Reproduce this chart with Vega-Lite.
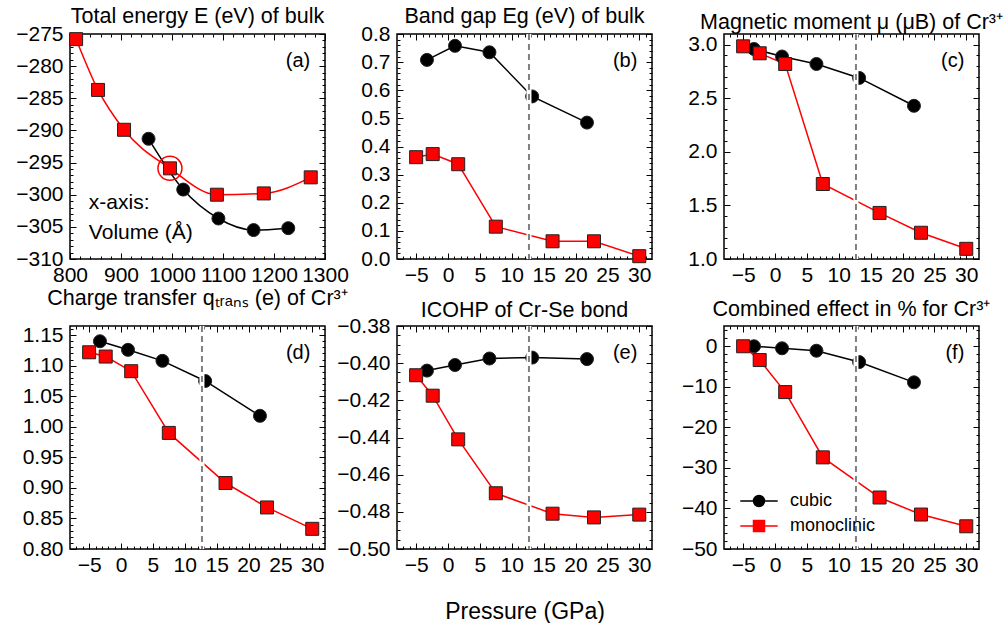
{
  "$schema": "https://vega.github.io/schema/vega-lite/v6.json",
  "background": "white",
  "padding": {"left": 14, "top": 4, "right": 5, "bottom": 5},
  "datasets": {
    "a": [
      {"s": "monoclinic", "x": 812, "y": -275.8}, {"s": "monoclinic", "x": 855, "y": -283.7}, {"s": "monoclinic", "x": 906, "y": -289.9}, {"s": "monoclinic", "x": 996, "y": -295.9}, {"s": "monoclinic", "x": 1088, "y": -300.0}, {"s": "monoclinic", "x": 1180, "y": -299.8}, {"s": "monoclinic", "x": 1272, "y": -297.3},
      {"s": "cubic", "x": 954, "y": -291.3}, {"s": "cubic", "x": 1022, "y": -299.2}, {"s": "cubic", "x": 1091, "y": -303.7}, {"s": "cubic", "x": 1160, "y": -305.5}, {"s": "cubic", "x": 1228, "y": -305.2}
    ],
    "b": [
      {"s": "cubic", "x": -3.3, "y": 0.708}, {"s": "cubic", "x": 1.1, "y": 0.758}, {"s": "cubic", "x": 6.5, "y": 0.735}, {"s": "cubic", "x": 13.2, "y": 0.578}, {"s": "cubic", "x": 21.8, "y": 0.485},
      {"s": "monoclinic", "x": -5.0, "y": 0.362}, {"s": "monoclinic", "x": -2.4, "y": 0.373}, {"s": "monoclinic", "x": 1.6, "y": 0.337}, {"s": "monoclinic", "x": 7.5, "y": 0.115}, {"s": "monoclinic", "x": 16.4, "y": 0.063}, {"s": "monoclinic", "x": 22.9, "y": 0.063}, {"s": "monoclinic", "x": 30.0, "y": 0.010}
    ],
    "c": [
      {"s": "cubic", "x": -3.3, "y": 2.96}, {"s": "cubic", "x": 1.1, "y": 2.89}, {"s": "cubic", "x": 6.5, "y": 2.82}, {"s": "cubic", "x": 13.2, "y": 2.69}, {"s": "cubic", "x": 21.8, "y": 2.43},
      {"s": "monoclinic", "x": -5.0, "y": 2.985}, {"s": "monoclinic", "x": -2.4, "y": 2.92}, {"s": "monoclinic", "x": 1.6, "y": 2.82}, {"s": "monoclinic", "x": 7.5, "y": 1.70}, {"s": "monoclinic", "x": 16.4, "y": 1.43}, {"s": "monoclinic", "x": 22.9, "y": 1.245}, {"s": "monoclinic", "x": 30.0, "y": 1.095}
    ],
    "d": [
      {"s": "cubic", "x": -3.3, "y": 1.140}, {"s": "cubic", "x": 1.1, "y": 1.126}, {"s": "cubic", "x": 6.5, "y": 1.108}, {"s": "cubic", "x": 13.2, "y": 1.075}, {"s": "cubic", "x": 21.8, "y": 1.018},
      {"s": "monoclinic", "x": -5.0, "y": 1.122}, {"s": "monoclinic", "x": -2.4, "y": 1.115}, {"s": "monoclinic", "x": 1.6, "y": 1.091}, {"s": "monoclinic", "x": 7.5, "y": 0.990}, {"s": "monoclinic", "x": 16.4, "y": 0.908}, {"s": "monoclinic", "x": 22.9, "y": 0.868}, {"s": "monoclinic", "x": 30.0, "y": 0.833}
    ],
    "e": [
      {"s": "cubic", "x": -3.3, "y": -0.404}, {"s": "cubic", "x": 1.1, "y": -0.401}, {"s": "cubic", "x": 6.5, "y": -0.3975}, {"s": "cubic", "x": 13.2, "y": -0.397}, {"s": "cubic", "x": 21.8, "y": -0.3978},
      {"s": "monoclinic", "x": -5.0, "y": -0.4065}, {"s": "monoclinic", "x": -2.4, "y": -0.4175}, {"s": "monoclinic", "x": 1.6, "y": -0.441}, {"s": "monoclinic", "x": 7.5, "y": -0.470}, {"s": "monoclinic", "x": 16.4, "y": -0.481}, {"s": "monoclinic", "x": 22.9, "y": -0.483}, {"s": "monoclinic", "x": 30.0, "y": -0.4815}
    ],
    "f": [
      {"s": "cubic", "x": -3.3, "y": 0.0}, {"s": "cubic", "x": 1.1, "y": -0.5}, {"s": "cubic", "x": 6.5, "y": -1.1}, {"s": "cubic", "x": 13.2, "y": -3.9}, {"s": "cubic", "x": 21.8, "y": -8.9},
      {"s": "monoclinic", "x": -5.0, "y": 0.0}, {"s": "monoclinic", "x": -2.4, "y": -3.4}, {"s": "monoclinic", "x": 1.6, "y": -11.3}, {"s": "monoclinic", "x": 7.5, "y": -27.4}, {"s": "monoclinic", "x": 16.4, "y": -37.3}, {"s": "monoclinic", "x": 22.9, "y": -41.5}, {"s": "monoclinic", "x": 30.0, "y": -44.4}
    ]
  },
  "columns": 3,
  "spacing": {"row": 67, "column": 72},
  "bounds": "flush",
  "resolve": {
    "scale": {"x": "independent", "y": "independent", "color": "independent", "shape": "independent", "fill": "independent", "stroke": "independent"},
    "legend": {"color": "independent", "shape": "independent", "fill": "independent", "stroke": "independent"}
  },
  "concat": [
    {
      "width": 255, "height": 225,
      "data": {"name": "a"},
      "title": {"text": "Total energy E (eV) of bulk"},
      "resolve": {"axis": {"x": "independent", "y": "independent"}},
      "layer": [
        {"mark": {"type": "line", "strokeWidth": 1.5, "interpolate": "monotone"},
         "encoding": {
           "x": {"field": "x", "type": "quantitative", "scale": {"domain": [800, 1300], "nice": false, "zero": false}, "axis": {"orient": "bottom", "values": [800, 900, 1000, 1100, 1200, 1300], "format": "d", "tickSize": -6, "title": null}},
           "y": {"field": "y", "type": "quantitative", "scale": {"domain": [-310, -275], "nice": false, "zero": false}, "axis": {"orient": "left", "values": [-310, -305, -300, -295, -290, -285, -280, -275], "format": "d", "tickSize": -6, "title": null}},
           "color": {"field": "s", "type": "nominal", "scale": {"domain": ["cubic", "monoclinic"], "range": ["black", "red"]}, "legend": null}}},
        {"mark": {"type": "point", "filled": true, "size": 169, "opacity": 1, "stroke": "#222", "strokeWidth": 1},
         "encoding": {
           "x": {"field": "x", "type": "quantitative", "axis": {"orient": "top", "values": [800, 900, 1000, 1100, 1200, 1300], "tickSize": -6, "labels": false, "title": null}},
           "y": {"field": "y", "type": "quantitative", "axis": {"orient": "right", "values": [-310, -305, -300, -295, -290, -285, -280, -275], "tickSize": -6, "labels": false, "title": null}},
           "color": {"field": "s", "type": "nominal", "scale": {"domain": ["cubic", "monoclinic"], "range": ["black", "red"]}, "legend": null},
           "shape": {"field": "s", "type": "nominal", "scale": {"domain": ["cubic", "monoclinic"], "range": ["circle", "square"]}, "legend": null}}},
        {"mark": {"type": "point", "opacity": 0},
         "encoding": {
           "x": {"field": "x", "type": "quantitative", "axis": {"orient": "bottom", "values": [820, 840, 860, 880, 920, 940, 960, 980, 1020, 1040, 1060, 1080, 1120, 1140, 1160, 1180, 1220, 1240, 1260, 1280], "tickSize": -3, "labels": false, "title": null}},
           "y": {"field": "y", "type": "quantitative", "axis": {"orient": "left", "values": [-309, -308, -307, -306, -304, -303, -302, -301, -299, -298, -297, -296, -294, -293, -292, -291, -289, -288, -287, -286, -284, -283, -282, -281, -279, -278, -277, -276], "tickSize": -3, "labels": false, "title": null}}}},
        {"mark": {"type": "point", "opacity": 0},
         "encoding": {
           "x": {"field": "x", "type": "quantitative", "axis": {"orient": "top", "values": [820, 840, 860, 880, 920, 940, 960, 980, 1020, 1040, 1060, 1080, 1120, 1140, 1160, 1180, 1220, 1240, 1260, 1280], "tickSize": -3, "labels": false, "title": null}},
           "y": {"field": "y", "type": "quantitative", "axis": {"orient": "right", "values": [-309, -308, -307, -306, -304, -303, -302, -301, -299, -298, -297, -296, -294, -293, -292, -291, -289, -288, -287, -286, -284, -283, -282, -281, -279, -278, -277, -276], "tickSize": -3, "labels": false, "title": null}}}},
        {"data": {"values": [{}]}, "mark": {"type": "point", "shape": "circle", "filled": false, "size": 576, "stroke": "red", "strokeWidth": 1.5, "opacity": 1},
         "encoding": {"x": {"datum": 996, "type": "quantitative", "axis": null}, "y": {"datum": -295.9, "type": "quantitative", "axis": null}}},
        {"data": {"values": [{}]}, "mark": {"type": "text", "align": "left", "baseline": "middle", "fontSize": 21, "color": "black"},
         "encoding": {"x": {"datum": 837, "type": "quantitative", "axis": null}, "y": {"datum": -301.3, "type": "quantitative", "axis": null}, "text": {"value": "x-axis:"}}},
        {"data": {"values": [{}]}, "mark": {"type": "text", "align": "left", "baseline": "middle", "fontSize": 21, "color": "black"},
         "encoding": {"x": {"datum": 837, "type": "quantitative", "axis": null}, "y": {"datum": -305.9, "type": "quantitative", "axis": null}, "text": {"value": "Volume (Å)"}}},
        {"data": {"values": [{}]}, "mark": {"type": "text", "align": "right", "baseline": "middle", "fontSize": 20, "color": "black"},
         "encoding": {"x": {"datum": 1271, "type": "quantitative", "axis": null}, "y": {"datum": -279.2, "type": "quantitative", "axis": null}, "text": {"value": "(a)"}}}
      ]
    },
    {
      "width": 255, "height": 225,
      "data": {"name": "b"},
      "title": {"text": "Band gap Eg (eV) of bulk"},
      "resolve": {"axis": {"x": "independent", "y": "independent"}},
      "layer": [
        {"mark": {"type": "line", "strokeWidth": 1.5},
         "encoding": {
           "x": {"field": "x", "type": "quantitative", "scale": {"domain": [-8, 32], "nice": false, "zero": false}, "axis": {"orient": "bottom", "values": [-5, 0, 5, 10, 15, 20, 25, 30], "format": "d", "tickSize": -6, "title": null}},
           "y": {"field": "y", "type": "quantitative", "scale": {"domain": [0, 0.8], "nice": false, "zero": false}, "axis": {"orient": "left", "values": [0, 0.1, 0.2, 0.3, 0.4, 0.5, 0.6, 0.7, 0.8], "format": ".1f", "tickSize": -6, "title": null}},
           "color": {"field": "s", "type": "nominal", "scale": {"domain": ["cubic", "monoclinic"], "range": ["black", "red"]}, "legend": null}}},
        {"mark": {"type": "point", "filled": true, "size": 169, "opacity": 1, "stroke": "#222", "strokeWidth": 1},
         "encoding": {
           "x": {"field": "x", "type": "quantitative", "axis": {"orient": "top", "values": [-5, 0, 5, 10, 15, 20, 25, 30], "tickSize": -6, "labels": false, "title": null}},
           "y": {"field": "y", "type": "quantitative", "axis": {"orient": "right", "values": [0, 0.1, 0.2, 0.3, 0.4, 0.5, 0.6, 0.7, 0.8], "tickSize": -6, "labels": false, "title": null}},
           "color": {"field": "s", "type": "nominal", "scale": {"domain": ["cubic", "monoclinic"], "range": ["black", "red"]}, "legend": null},
           "shape": {"field": "s", "type": "nominal", "scale": {"domain": ["cubic", "monoclinic"], "range": ["circle", "square"]}, "legend": null}}},
        {"mark": {"type": "point", "opacity": 0},
         "encoding": {
           "x": {"field": "x", "type": "quantitative", "axis": {"orient": "bottom", "values": [-7, -6, -4, -3, -2, -1, 1, 2, 3, 4, 6, 7, 8, 9, 11, 12, 13, 14, 16, 17, 18, 19, 21, 22, 23, 24, 26, 27, 28, 29, 31], "tickSize": -3, "labels": false, "title": null}},
           "y": {"field": "y", "type": "quantitative", "axis": {"orient": "left", "values": [0.02, 0.04, 0.06, 0.08, 0.12, 0.14, 0.16, 0.18, 0.22, 0.24, 0.26, 0.28, 0.32, 0.34, 0.36, 0.38, 0.42, 0.44, 0.46, 0.48, 0.52, 0.54, 0.56, 0.58, 0.62, 0.64, 0.66, 0.68, 0.72, 0.74, 0.76, 0.78], "tickSize": -3, "labels": false, "title": null}}}},
        {"mark": {"type": "point", "opacity": 0},
         "encoding": {
           "x": {"field": "x", "type": "quantitative", "axis": {"orient": "top", "values": [-7, -6, -4, -3, -2, -1, 1, 2, 3, 4, 6, 7, 8, 9, 11, 12, 13, 14, 16, 17, 18, 19, 21, 22, 23, 24, 26, 27, 28, 29, 31], "tickSize": -3, "labels": false, "title": null}},
           "y": {"field": "y", "type": "quantitative", "axis": {"orient": "right", "values": [0.02, 0.04, 0.06, 0.08, 0.12, 0.14, 0.16, 0.18, 0.22, 0.24, 0.26, 0.28, 0.32, 0.34, 0.36, 0.38, 0.42, 0.44, 0.46, 0.48, 0.52, 0.54, 0.56, 0.58, 0.62, 0.64, 0.66, 0.68, 0.72, 0.74, 0.76, 0.78], "tickSize": -3, "labels": false, "title": null}}}},
        {"data": {"values": [{}]}, "mark": {"type": "rule", "stroke": "white", "strokeWidth": 5},
         "encoding": {"x": {"datum": 12.7, "type": "quantitative", "axis": null}}},
        {"data": {"values": [{}]}, "mark": {"type": "rule", "stroke": "#808080", "strokeWidth": 2, "strokeDash": [6, 4]},
         "encoding": {"x": {"datum": 12.7, "type": "quantitative", "axis": null}}},
        {"data": {"values": [{}]}, "mark": {"type": "text", "align": "right", "baseline": "middle", "fontSize": 20, "color": "black"},
         "encoding": {"x": {"datum": 29.7, "type": "quantitative", "axis": null}, "y": {"datum": 0.704, "type": "quantitative", "axis": null}, "text": {"value": "(b)"}}}
      ]
    },
    {
      "width": 255, "height": 225,
      "data": {"name": "c"},
      "title": {"text": "Magnetic moment μ (μB) of Cr³⁺", "offset": -2},
      "resolve": {"axis": {"x": "independent", "y": "independent"}},
      "layer": [
        {"mark": {"type": "line", "strokeWidth": 1.5},
         "encoding": {
           "x": {"field": "x", "type": "quantitative", "scale": {"domain": [-8, 32], "nice": false, "zero": false}, "axis": {"orient": "bottom", "values": [-5, 0, 5, 10, 15, 20, 25, 30], "format": "d", "tickSize": -6, "title": null}},
           "y": {"field": "y", "type": "quantitative", "scale": {"domain": [1.0, 3.1], "nice": false, "zero": false}, "axis": {"orient": "left", "values": [1.0, 1.5, 2.0, 2.5, 3.0], "format": ".1f", "tickSize": -6, "title": null}},
           "color": {"field": "s", "type": "nominal", "scale": {"domain": ["cubic", "monoclinic"], "range": ["black", "red"]}, "legend": null}}},
        {"mark": {"type": "point", "filled": true, "size": 169, "opacity": 1, "stroke": "#222", "strokeWidth": 1},
         "encoding": {
           "x": {"field": "x", "type": "quantitative", "axis": {"orient": "top", "values": [-5, 0, 5, 10, 15, 20, 25, 30], "tickSize": -6, "labels": false, "title": null}},
           "y": {"field": "y", "type": "quantitative", "axis": {"orient": "right", "values": [1.0, 1.5, 2.0, 2.5, 3.0], "tickSize": -6, "labels": false, "title": null}},
           "color": {"field": "s", "type": "nominal", "scale": {"domain": ["cubic", "monoclinic"], "range": ["black", "red"]}, "legend": null},
           "shape": {"field": "s", "type": "nominal", "scale": {"domain": ["cubic", "monoclinic"], "range": ["circle", "square"]}, "legend": null}}},
        {"mark": {"type": "point", "opacity": 0},
         "encoding": {
           "x": {"field": "x", "type": "quantitative", "axis": {"orient": "bottom", "values": [-7, -6, -4, -3, -2, -1, 1, 2, 3, 4, 6, 7, 8, 9, 11, 12, 13, 14, 16, 17, 18, 19, 21, 22, 23, 24, 26, 27, 28, 29, 31], "tickSize": -3, "labels": false, "title": null}},
           "y": {"field": "y", "type": "quantitative", "axis": {"orient": "left", "values": [1.1, 1.2, 1.3, 1.4, 1.6, 1.7, 1.8, 1.9, 2.1, 2.2, 2.3, 2.4, 2.6, 2.7, 2.8, 2.9], "tickSize": -3, "labels": false, "title": null}}}},
        {"mark": {"type": "point", "opacity": 0},
         "encoding": {
           "x": {"field": "x", "type": "quantitative", "axis": {"orient": "top", "values": [-7, -6, -4, -3, -2, -1, 1, 2, 3, 4, 6, 7, 8, 9, 11, 12, 13, 14, 16, 17, 18, 19, 21, 22, 23, 24, 26, 27, 28, 29, 31], "tickSize": -3, "labels": false, "title": null}},
           "y": {"field": "y", "type": "quantitative", "axis": {"orient": "right", "values": [1.1, 1.2, 1.3, 1.4, 1.6, 1.7, 1.8, 1.9, 2.1, 2.2, 2.3, 2.4, 2.6, 2.7, 2.8, 2.9], "tickSize": -3, "labels": false, "title": null}}}},
        {"data": {"values": [{}]}, "mark": {"type": "rule", "stroke": "white", "strokeWidth": 5},
         "encoding": {"x": {"datum": 12.7, "type": "quantitative", "axis": null}}},
        {"data": {"values": [{}]}, "mark": {"type": "rule", "stroke": "#808080", "strokeWidth": 2, "strokeDash": [6, 4]},
         "encoding": {"x": {"datum": 12.7, "type": "quantitative", "axis": null}}},
        {"data": {"values": [{}]}, "mark": {"type": "text", "align": "right", "baseline": "middle", "fontSize": 20, "color": "black"},
         "encoding": {"x": {"datum": 29.7, "type": "quantitative", "axis": null}, "y": {"datum": 2.85, "type": "quantitative", "axis": null}, "text": {"value": "(c)"}}}
      ]
    },
    {
      "width": 255, "height": 223,
      "data": {"name": "d"},
      "title": {"text": "Charge transfer qₜᵣₐₙₛ (e) of Cr³⁺", "offset": 14},
      "resolve": {"axis": {"x": "independent", "y": "independent"}},
      "layer": [
        {"mark": {"type": "line", "strokeWidth": 1.5},
         "encoding": {
           "x": {"field": "x", "type": "quantitative", "scale": {"domain": [-8, 32], "nice": false, "zero": false}, "axis": {"orient": "bottom", "values": [-5, 0, 5, 10, 15, 20, 25, 30], "format": "d", "tickSize": -6, "title": null}},
           "y": {"field": "y", "type": "quantitative", "scale": {"domain": [0.8, 1.165], "nice": false, "zero": false}, "axis": {"orient": "left", "values": [0.8, 0.85, 0.9, 0.95, 1.0, 1.05, 1.1, 1.15], "format": ".2f", "tickSize": -6, "title": null}},
           "color": {"field": "s", "type": "nominal", "scale": {"domain": ["cubic", "monoclinic"], "range": ["black", "red"]}, "legend": null}}},
        {"mark": {"type": "point", "filled": true, "size": 169, "opacity": 1, "stroke": "#222", "strokeWidth": 1},
         "encoding": {
           "x": {"field": "x", "type": "quantitative", "axis": {"orient": "top", "values": [-5, 0, 5, 10, 15, 20, 25, 30], "tickSize": -6, "labels": false, "title": null}},
           "y": {"field": "y", "type": "quantitative", "axis": {"orient": "right", "values": [0.8, 0.85, 0.9, 0.95, 1.0, 1.05, 1.1, 1.15], "tickSize": -6, "labels": false, "title": null}},
           "color": {"field": "s", "type": "nominal", "scale": {"domain": ["cubic", "monoclinic"], "range": ["black", "red"]}, "legend": null},
           "shape": {"field": "s", "type": "nominal", "scale": {"domain": ["cubic", "monoclinic"], "range": ["circle", "square"]}, "legend": null}}},
        {"mark": {"type": "point", "opacity": 0},
         "encoding": {
           "x": {"field": "x", "type": "quantitative", "axis": {"orient": "bottom", "values": [-7, -6, -4, -3, -2, -1, 1, 2, 3, 4, 6, 7, 8, 9, 11, 12, 13, 14, 16, 17, 18, 19, 21, 22, 23, 24, 26, 27, 28, 29, 31], "tickSize": -3, "labels": false, "title": null}},
           "y": {"field": "y", "type": "quantitative", "axis": {"orient": "left", "values": [0.81, 0.82, 0.83, 0.84, 0.86, 0.87, 0.88, 0.89, 0.91, 0.92, 0.93, 0.94, 0.96, 0.97, 0.98, 0.99, 1.01, 1.02, 1.03, 1.04, 1.06, 1.07, 1.08, 1.09, 1.11, 1.12, 1.13, 1.14, 1.16], "tickSize": -3, "labels": false, "title": null}}}},
        {"mark": {"type": "point", "opacity": 0},
         "encoding": {
           "x": {"field": "x", "type": "quantitative", "axis": {"orient": "top", "values": [-7, -6, -4, -3, -2, -1, 1, 2, 3, 4, 6, 7, 8, 9, 11, 12, 13, 14, 16, 17, 18, 19, 21, 22, 23, 24, 26, 27, 28, 29, 31], "tickSize": -3, "labels": false, "title": null}},
           "y": {"field": "y", "type": "quantitative", "axis": {"orient": "right", "values": [0.81, 0.82, 0.83, 0.84, 0.86, 0.87, 0.88, 0.89, 0.91, 0.92, 0.93, 0.94, 0.96, 0.97, 0.98, 0.99, 1.01, 1.02, 1.03, 1.04, 1.06, 1.07, 1.08, 1.09, 1.11, 1.12, 1.13, 1.14, 1.16], "tickSize": -3, "labels": false, "title": null}}}},
        {"data": {"values": [{}]}, "mark": {"type": "rule", "stroke": "white", "strokeWidth": 5},
         "encoding": {"x": {"datum": 12.7, "type": "quantitative", "axis": null}}},
        {"data": {"values": [{}]}, "mark": {"type": "rule", "stroke": "#808080", "strokeWidth": 2, "strokeDash": [6, 4]},
         "encoding": {"x": {"datum": 12.7, "type": "quantitative", "axis": null}}},
        {"data": {"values": [{}]}, "mark": {"type": "text", "align": "right", "baseline": "middle", "fontSize": 20, "color": "black"},
         "encoding": {"x": {"datum": 29.7, "type": "quantitative", "axis": null}, "y": {"datum": 1.121, "type": "quantitative", "axis": null}, "text": {"value": "(d)"}}}
      ]
    },
    {
      "width": 255, "height": 223,
      "data": {"name": "e"},
      "title": {"text": "ICOHP of Cr-Se bond", "offset": -6},
      "resolve": {"axis": {"x": "independent", "y": "independent"}},
      "layer": [
        {"mark": {"type": "line", "strokeWidth": 1.5},
         "encoding": {
           "x": {"field": "x", "type": "quantitative", "scale": {"domain": [-8, 32], "nice": false, "zero": false}, "axis": {"orient": "bottom", "values": [-5, 0, 5, 10, 15, 20, 25, 30], "format": "d", "tickSize": -6, "title": "Pressure (GPa)", "titlePadding": 25}},
           "y": {"field": "y", "type": "quantitative", "scale": {"domain": [-0.5, -0.38], "nice": false, "zero": false}, "axis": {"orient": "left", "values": [-0.5, -0.48, -0.46, -0.44, -0.42, -0.4, -0.38], "format": ".2f", "tickSize": -6, "title": null}},
           "color": {"field": "s", "type": "nominal", "scale": {"domain": ["cubic", "monoclinic"], "range": ["black", "red"]}, "legend": null}}},
        {"mark": {"type": "point", "filled": true, "size": 169, "opacity": 1, "stroke": "#222", "strokeWidth": 1},
         "encoding": {
           "x": {"field": "x", "type": "quantitative", "axis": {"orient": "top", "values": [-5, 0, 5, 10, 15, 20, 25, 30], "tickSize": -6, "labels": false, "title": null}},
           "y": {"field": "y", "type": "quantitative", "axis": {"orient": "right", "values": [-0.5, -0.48, -0.46, -0.44, -0.42, -0.4, -0.38], "tickSize": -6, "labels": false, "title": null}},
           "color": {"field": "s", "type": "nominal", "scale": {"domain": ["cubic", "monoclinic"], "range": ["black", "red"]}, "legend": null},
           "shape": {"field": "s", "type": "nominal", "scale": {"domain": ["cubic", "monoclinic"], "range": ["circle", "square"]}, "legend": null}}},
        {"mark": {"type": "point", "opacity": 0},
         "encoding": {
           "x": {"field": "x", "type": "quantitative", "axis": {"orient": "bottom", "values": [-7, -6, -4, -3, -2, -1, 1, 2, 3, 4, 6, 7, 8, 9, 11, 12, 13, 14, 16, 17, 18, 19, 21, 22, 23, 24, 26, 27, 28, 29, 31], "tickSize": -3, "labels": false, "title": null}},
           "y": {"field": "y", "type": "quantitative", "axis": {"orient": "left", "values": [-0.495, -0.49, -0.485, -0.475, -0.47, -0.465, -0.455, -0.45, -0.445, -0.435, -0.43, -0.425, -0.415, -0.41, -0.405, -0.395, -0.39, -0.385], "tickSize": -3, "labels": false, "title": null}}}},
        {"mark": {"type": "point", "opacity": 0},
         "encoding": {
           "x": {"field": "x", "type": "quantitative", "axis": {"orient": "top", "values": [-7, -6, -4, -3, -2, -1, 1, 2, 3, 4, 6, 7, 8, 9, 11, 12, 13, 14, 16, 17, 18, 19, 21, 22, 23, 24, 26, 27, 28, 29, 31], "tickSize": -3, "labels": false, "title": null}},
           "y": {"field": "y", "type": "quantitative", "axis": {"orient": "right", "values": [-0.495, -0.49, -0.485, -0.475, -0.47, -0.465, -0.455, -0.45, -0.445, -0.435, -0.43, -0.425, -0.415, -0.41, -0.405, -0.395, -0.39, -0.385], "tickSize": -3, "labels": false, "title": null}}}},
        {"data": {"values": [{}]}, "mark": {"type": "rule", "stroke": "white", "strokeWidth": 5},
         "encoding": {"x": {"datum": 12.7, "type": "quantitative", "axis": null}}},
        {"data": {"values": [{}]}, "mark": {"type": "rule", "stroke": "#808080", "strokeWidth": 2, "strokeDash": [6, 4]},
         "encoding": {"x": {"datum": 12.7, "type": "quantitative", "axis": null}}},
        {"data": {"values": [{}]}, "mark": {"type": "text", "align": "right", "baseline": "middle", "fontSize": 20, "color": "black"},
         "encoding": {"x": {"datum": 29.7, "type": "quantitative", "axis": null}, "y": {"datum": -0.3945, "type": "quantitative", "axis": null}, "text": {"value": "(e)"}}}
      ]
    },
    {
      "width": 255, "height": 223,
      "data": {"name": "f"},
      "title": {"text": "Combined effect in % for Cr³⁺", "offset": 3},
      "resolve": {"axis": {"x": "independent", "y": "independent"}},
      "layer": [
        {"transform": [{"filter": "datum.s === 'cubic'"}],
         "mark": {"type": "line", "strokeWidth": 1.5, "color": "black"},
         "encoding": {
           "x": {"field": "x", "type": "quantitative", "scale": {"domain": [-8, 32], "nice": false, "zero": false}, "axis": {"orient": "bottom", "values": [-5, 0, 5, 10, 15, 20, 25, 30], "format": "d", "tickSize": -6, "title": null}},
           "y": {"field": "y", "type": "quantitative", "scale": {"domain": [-50, 5], "nice": false, "zero": false}, "axis": {"orient": "left", "values": [-50, -40, -30, -20, -10, 0], "format": "d", "tickSize": -6, "title": null}}}},
        {"transform": [{"filter": "datum.s === 'monoclinic'"}],
         "mark": {"type": "line", "strokeWidth": 1.5, "color": "red"},
         "encoding": {
           "x": {"field": "x", "type": "quantitative", "axis": null},
           "y": {"field": "y", "type": "quantitative", "axis": null}}},
        {"transform": [{"filter": "datum.s === 'cubic'"}],
         "mark": {"type": "point", "shape": "circle", "filled": true, "size": 169, "opacity": 1, "color": "black", "stroke": "#222", "strokeWidth": 1},
         "encoding": {
           "x": {"field": "x", "type": "quantitative", "axis": {"orient": "top", "values": [-5, 0, 5, 10, 15, 20, 25, 30], "tickSize": -6, "labels": false, "title": null}},
           "y": {"field": "y", "type": "quantitative", "axis": {"orient": "right", "values": [-50, -40, -30, -20, -10, 0], "tickSize": -6, "labels": false, "title": null}}}},
        {"transform": [{"filter": "datum.s === 'monoclinic'"}],
         "mark": {"type": "point", "shape": "square", "filled": true, "size": 169, "opacity": 1, "color": "red", "stroke": "#222", "strokeWidth": 1},
         "encoding": {
           "x": {"field": "x", "type": "quantitative", "axis": null},
           "y": {"field": "y", "type": "quantitative", "axis": null}}},
        {"mark": {"type": "point", "opacity": 0},
         "encoding": {
           "x": {"field": "x", "type": "quantitative", "axis": {"orient": "bottom", "values": [-7, -6, -4, -3, -2, -1, 1, 2, 3, 4, 6, 7, 8, 9, 11, 12, 13, 14, 16, 17, 18, 19, 21, 22, 23, 24, 26, 27, 28, 29, 31], "tickSize": -3, "labels": false, "title": null}},
           "y": {"field": "y", "type": "quantitative", "axis": {"orient": "left", "values": [-48, -46, -44, -42, -38, -36, -34, -32, -28, -26, -24, -22, -18, -16, -14, -12, -8, -6, -4, -2, 2, 4], "tickSize": -3, "labels": false, "title": null}}}},
        {"mark": {"type": "point", "opacity": 0},
         "encoding": {
           "x": {"field": "x", "type": "quantitative", "axis": {"orient": "top", "values": [-7, -6, -4, -3, -2, -1, 1, 2, 3, 4, 6, 7, 8, 9, 11, 12, 13, 14, 16, 17, 18, 19, 21, 22, 23, 24, 26, 27, 28, 29, 31], "tickSize": -3, "labels": false, "title": null}},
           "y": {"field": "y", "type": "quantitative", "axis": {"orient": "right", "values": [-48, -46, -44, -42, -38, -36, -34, -32, -28, -26, -24, -22, -18, -16, -14, -12, -8, -6, -4, -2, 2, 4], "tickSize": -3, "labels": false, "title": null}}}},
        {"data": {"values": [{}]}, "mark": {"type": "rule", "stroke": "white", "strokeWidth": 5},
         "encoding": {"x": {"datum": 12.7, "type": "quantitative", "axis": null}}},
        {"data": {"values": [{}]}, "mark": {"type": "rule", "stroke": "#808080", "strokeWidth": 2, "strokeDash": [6, 4]},
         "encoding": {"x": {"datum": 12.7, "type": "quantitative", "axis": null}}},
        {"data": {"values": [{}]}, "mark": {"type": "text", "align": "right", "baseline": "middle", "fontSize": 20, "color": "black"},
         "encoding": {"x": {"datum": 29.7, "type": "quantitative", "axis": null}, "y": {"datum": -1.7, "type": "quantitative", "axis": null}, "text": {"value": "(f)"}}},
        {"mark": {"type": "point", "filled": true, "opacity": 0, "strokeWidth": 1.5},
         "encoding": {
           "x": {"field": "x", "type": "quantitative", "axis": null},
           "y": {"field": "y", "type": "quantitative", "axis": null},
           "fill": {"field": "s", "type": "nominal", "scale": {"domain": ["cubic", "monoclinic"], "range": ["black", "red"]},
             "legend": {"orient": "none", "legendX": 26, "legendY": 166, "title": null, "padding": 0, "labelFontSize": 18, "labelFont": "Liberation Sans", "labelColor": "black", "symbolSize": 121, "labelOffset": 22, "rowPadding": 7, "symbolStrokeWidth": 1.5, "symbolOpacity": 1}},
           "stroke": {"field": "s", "type": "nominal", "scale": {"domain": ["cubic", "monoclinic"], "range": ["black", "red"]},
             "legend": {"orient": "none", "legendX": 26, "legendY": 166, "title": null, "padding": 0, "labelFontSize": 18, "labelFont": "Liberation Sans", "labelColor": "black", "symbolSize": 121, "labelOffset": 22, "rowPadding": 7, "symbolStrokeWidth": 1.5, "symbolOpacity": 1}},
           "shape": {"field": "s", "type": "nominal", "scale": {"domain": ["cubic", "monoclinic"], "range": ["M-3.4,0H3.4M1,0A1,1,0,1,1,-1,0A1,1,0,1,1,1,0Z", "M-3.4,0H3.4M-1,-1H1V1H-1Z"]},
             "legend": {"orient": "none", "legendX": 26, "legendY": 166, "title": null, "padding": 0, "labelFontSize": 18, "labelFont": "Liberation Sans", "labelColor": "black", "symbolSize": 121, "labelOffset": 22, "rowPadding": 7, "symbolStrokeWidth": 1.5, "symbolOpacity": 1}}}}
      ]
    }
  ],
  "config": {
    "font": "Liberation Sans",
    "view": {"stroke": "black", "strokeWidth": 1.5},
    "axis": {"domain": false, "grid": false, "tickColor": "black", "tickWidth": 1, "labelFont": "Liberation Sans", "labelFontSize": 21, "labelColor": "black", "labelOverlap": false, "labelFlush": false, "labelBound": false, "titleFont": "Liberation Sans", "titleFontWeight": "normal", "titleColor": "black", "titleFontSize": 23},
    "axisX": {"labelPadding": 11},
    "axisY": {"labelPadding": 13},
    "title": {"font": "Liberation Sans", "fontSize": 21.5, "fontWeight": "normal", "color": "black", "anchor": "middle", "offset": -4, "baseline": "alphabetic"}
  }
}
